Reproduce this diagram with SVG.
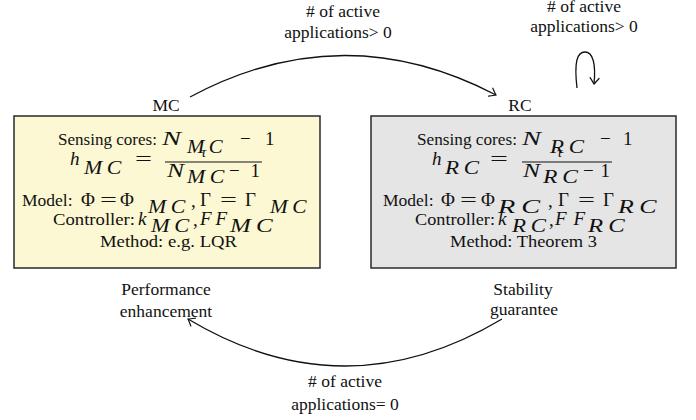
<svg xmlns="http://www.w3.org/2000/svg" width="696" height="420" viewBox="0 0 696 420">
  <style>
    text { font-family: 'Liberation Serif', 'DejaVu Serif', serif; fill: #111; }
    .t { font-size: 17.5px; }
    .m { font-style: italic; font-size: 19px; }
    .s { font-style: italic; font-size: 19px; letter-spacing: 4px; }
    .u { font-size: 19px; }
    .c { text-anchor: middle; }
    .box { stroke: #2a2a2a; stroke-width: 1.5; }
    .edge { fill: none; stroke: #111; stroke-width: 1.3; }
    .bar { stroke: #111; stroke-width: 1; }
  </style>
  <defs>
    <marker id="to" markerUnits="userSpaceOnUse" markerWidth="14" markerHeight="14" viewBox="-8 -7 10 14" refX="0" refY="0" orient="auto">
      <path d="M-6,-4.5 Q-1.5,-1 0,0 Q-1.5,1 -6,4.5" fill="none" stroke="#111" stroke-width="1.2" stroke-linecap="round"/>
    </marker>
  </defs>

  <!-- transitions -->
  <g id="connectors">
    <path class="edge" d="M190,97 Q343,15 496,95" marker-end="url(#to)"/>
    <path class="edge" d="M577,88 C574,62 577,52 585,52 C593,52 596,64 594,84" marker-end="url(#to)"/>
    <path class="edge" d="M502,319 Q345,413 188,319" marker-end="url(#to)"/>
    <text class="t c" x="343" y="17"># of active</text>
    <text class="t c" x="338" y="38">applications&gt;  0</text>
    <text class="t c" x="584" y="12"># of active</text>
    <text class="t c" x="584" y="32">applications&gt;  0</text>
    <text class="t c" x="345" y="387"># of active</text>
    <text class="t c" x="345" y="410">applications=  0</text>
  </g>

  <!-- MC mode -->
  <g id="mc">
    <text class="t c" x="166" y="111">MC</text>
    <rect class="box" x="14" y="116" width="306" height="152" fill="#fcf8d3"/>
    <text class="t" x="58" y="145" textLength="99" lengthAdjust="spacingAndGlyphs">Sensing cores:</text>
    <text class="m" x="162" y="145" textLength="19" lengthAdjust="spacingAndGlyphs">N</text>
    <text class="s" x="187" y="153" textLength="40" lengthAdjust="spacingAndGlyphs">MC</text>
    <text class="u" x="240" y="145">−</text>
    <text class="u" x="265" y="145">1</text>
    <text class="m" x="70" y="165">h</text>
    <text class="s" x="84" y="174" textLength="42" lengthAdjust="spacingAndGlyphs">MC</text>
    <text class="u" x="135" y="165" textLength="17" lengthAdjust="spacingAndGlyphs">=</text>
    <text class="m" x="201" y="157" style="font-size:15px">τ</text>
    <line class="bar" x1="165" y1="162" x2="262" y2="162"/>
    <text class="m" x="167" y="177" textLength="17" lengthAdjust="spacingAndGlyphs">N</text>
    <text class="s" x="187" y="183" textLength="42" lengthAdjust="spacingAndGlyphs">MC</text>
    <text class="u" x="229" y="177" textLength="31">−1</text>
    <text class="t" x="22" y="206">Model:</text>
    <text class="u" x="81" y="206">Φ</text>
    <text class="u" x="100" y="206" textLength="17" lengthAdjust="spacingAndGlyphs">=</text>
    <text class="u" x="120" y="206">Φ</text>
    <text class="s" x="148" y="213" textLength="42" lengthAdjust="spacingAndGlyphs">MC</text>
    <text class="u" x="191" y="207">,</text>
    <text class="u" x="200" y="206">Γ</text>
    <text class="u" x="220" y="206" textLength="17" lengthAdjust="spacingAndGlyphs">=</text>
    <text class="u" x="245" y="206">Γ</text>
    <text class="s" x="270" y="213" textLength="41" lengthAdjust="spacingAndGlyphs">MC</text>
    <text class="t" x="53" y="225" textLength="82" lengthAdjust="spacingAndGlyphs">Controller:</text>
    <text class="m" x="138" y="225">k</text>
    <text class="s" x="151" y="232" textLength="43" lengthAdjust="spacingAndGlyphs">MC</text>
    <text class="u" x="193" y="226">,</text>
    <text class="m" x="200" y="225" textLength="27">FF</text>
    <text class="s" x="230" y="232" textLength="48" lengthAdjust="spacingAndGlyphs">MC</text>
    <text class="t" x="100" y="247" textLength="137" lengthAdjust="spacingAndGlyphs">Method: e.g. LQR</text>
    <text class="t c" x="166" y="295">Performance</text>
    <text class="t c" x="166" y="317">enhancement</text>
  </g>

  <!-- RC mode -->
  <g id="rc">
    <text class="t c" x="520" y="111">RC</text>
    <rect class="box" x="371" y="116" width="305" height="152" fill="#e5e5e5"/>
    <text class="t" x="417" y="145" textLength="100" lengthAdjust="spacingAndGlyphs">Sensing cores:</text>
    <text class="m" x="522" y="145" textLength="19" lengthAdjust="spacingAndGlyphs">N</text>
    <text class="s" x="550" y="153" textLength="39" lengthAdjust="spacingAndGlyphs">RC</text>
    <text class="u" x="600" y="145">−</text>
    <text class="u" x="623" y="145">1</text>
    <text class="m" x="432" y="165">h</text>
    <text class="s" x="445" y="174" textLength="39" lengthAdjust="spacingAndGlyphs">RC</text>
    <text class="u" x="490" y="165" textLength="18" lengthAdjust="spacingAndGlyphs">=</text>
    <text class="m" x="557" y="157" style="font-size:15px">τ</text>
    <line class="bar" x1="522" y1="162" x2="612" y2="162"/>
    <text class="m" x="523" y="177" textLength="17" lengthAdjust="spacingAndGlyphs">N</text>
    <text class="s" x="543" y="183" textLength="40" lengthAdjust="spacingAndGlyphs">RC</text>
    <text class="u" x="583" y="177" textLength="27">−1</text>
    <text class="t" x="383" y="206">Model:</text>
    <text class="u" x="441" y="206">Φ</text>
    <text class="u" x="460" y="206" textLength="17" lengthAdjust="spacingAndGlyphs">=</text>
    <text class="u" x="481" y="206">Φ</text>
    <text class="s" x="498" y="213" textLength="48" lengthAdjust="spacingAndGlyphs">RC</text>
    <text class="u" x="548" y="207">,</text>
    <text class="u" x="558" y="206">Γ</text>
    <text class="u" x="578" y="206" textLength="17" lengthAdjust="spacingAndGlyphs">=</text>
    <text class="u" x="603" y="206">Γ</text>
    <text class="s" x="618" y="213" textLength="44" lengthAdjust="spacingAndGlyphs">RC</text>
    <text class="t" x="415" y="225" textLength="80" lengthAdjust="spacingAndGlyphs">Controller:</text>
    <text class="m" x="498" y="225">k</text>
    <text class="s" x="512" y="232" textLength="39" lengthAdjust="spacingAndGlyphs">RC</text>
    <text class="u" x="549" y="226">,</text>
    <text class="m" x="555" y="225" textLength="30">FF</text>
    <text class="s" x="588" y="232" textLength="42" lengthAdjust="spacingAndGlyphs">RC</text>
    <text class="t" x="450" y="247" textLength="147" lengthAdjust="spacingAndGlyphs">Method: Theorem 3</text>
    <text class="t c" x="523" y="295">Stability</text>
    <text class="t c" x="524" y="315">guarantee</text>
  </g>
</svg>
